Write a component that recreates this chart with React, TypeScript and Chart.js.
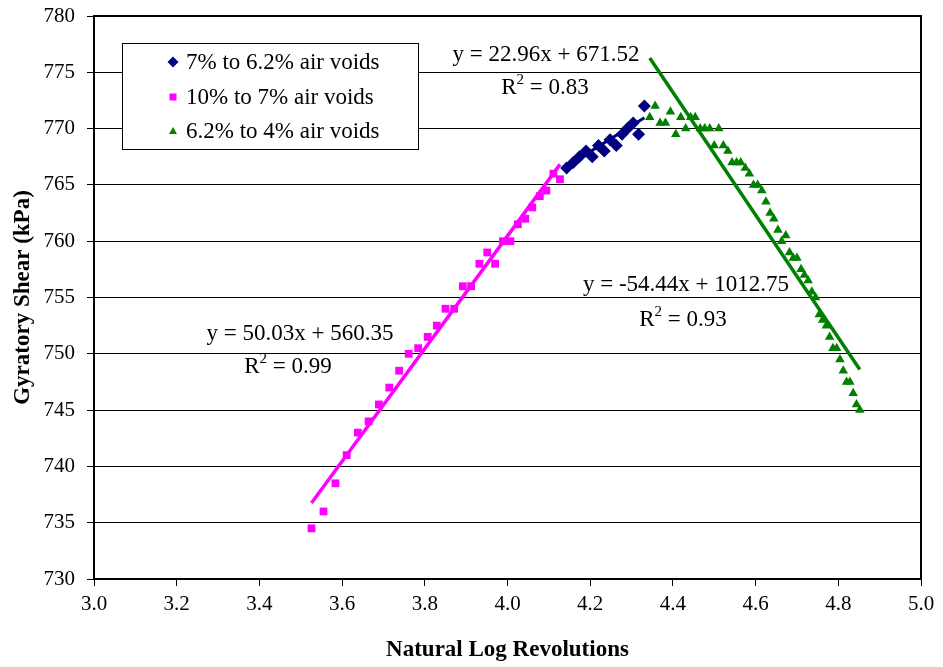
import React, { useEffect, useRef } from "react";
import { Chart, registerables } from "chart.js";

Chart.register(...registerables);

// ---- Data (x = natural log of gyratory revolutions, y = gyratory shear kPa)
const pinkX = [3.526, 3.555, 3.584, 3.611, 3.638, 3.664, 3.689, 3.714, 3.738, 3.761, 3.784, 3.807, 3.829, 3.850, 3.871, 3.892, 3.912, 3.932, 3.951, 3.970, 3.989, 4.007, 4.025, 4.043, 4.060, 4.078, 4.094, 4.111, 4.127];
const pinkY = [734.5, 736, 738.5, 741, 743, 744, 745.5, 747, 748.5, 750, 750.5, 751.5, 752.5, 754, 754, 756, 756, 758, 759, 758, 760, 760, 761.5, 762, 763, 764, 764.5, 766, 765.5];

const navyX = [4.143, 4.159, 4.174, 4.190, 4.205, 4.220, 4.234, 4.248, 4.263, 4.277, 4.290, 4.304, 4.317, 4.331];
const navyY = [766.5, 767, 767.5, 768, 767.5, 768.5, 768, 769, 768.5, 769.5, 770, 770.5, 769.5, 772];

const greenX = [4.344, 4.357, 4.369, 4.382, 4.394, 4.407, 4.419, 4.431, 4.443, 4.454, 4.466, 4.477, 4.489, 4.500, 4.511, 4.522, 4.533, 4.543, 4.554, 4.564, 4.575, 4.585, 4.595, 4.605, 4.615, 4.625, 4.635, 4.644, 4.654, 4.663, 4.673, 4.682, 4.691, 4.700, 4.710, 4.718, 4.727, 4.736, 4.745, 4.754, 4.762, 4.771, 4.779, 4.787, 4.796, 4.804, 4.812, 4.820, 4.828, 4.836, 4.844, 4.852];
const greenY = [771, 772, 770.5, 770.5, 771.5, 769.5, 771, 770, 771, 771, 770, 770, 770, 768.5, 770, 768.5, 768, 767, 767, 767, 766.5, 766, 765, 765, 764.5, 763.5, 762.5, 762, 761, 760, 760.5, 759, 758.5, 758.5, 757.5, 757, 756.5, 755.5, 755, 753.5, 753, 752.5, 751.5, 750.5, 750.5, 749.5, 748.5, 747.5, 747.5, 746.5, 745.5, 745];

// Trend line coefficients [slope, intercept]
const navyFit = [22.96, 671.52];
const pinkFit = [50.03, 560.35];
const greenFit = [-54.44, 1012.75];

const seriesLabels = ["7% to 6.2% air voids", "10% to 7% air voids", "6.2% to 4% air voids"];
const navyEq = ["y = 22.96x + 671.52", "0.83"];
const greenEq = ["y = -54.44x + 1012.75", "0.93"];
const pinkEq = ["y = 50.03x + 560.35", "0.99"];

const xTicks = { min: 3.0, max: 5.0, step: 0.2 };
const yTicks = { min: 730, max: 780, step: 5 };

const NAVY = "#000080";
const PINK = "#FF00FF";
const GREEN = "#008000";
const FONT = "'Liberation Serif', 'Times New Roman', serif";

const pts = (xs: number[], ys: number[]) => xs.map((x, i) => ({ x, y: ys[i] }));
const fitLine = (xs: number[], fit: number[]) => {
  const a = xs[0];
  const b = xs[xs.length - 1];
  return [
    { x: a, y: fit[0] * a + fit[1] },
    { x: b, y: fit[0] * b + fit[1] },
  ];
};

const overlayPlugin = {
  id: "overlay",
  afterDraw(chart: any) {
    const { ctx, chartArea } = chart;
    ctx.save();
    // plot border
    ctx.strokeStyle = "#000";
    ctx.lineWidth = 2;
    ctx.strokeRect(chartArea.left, chartArea.top, chartArea.right - chartArea.left, chartArea.bottom - chartArea.top);

    // legend box
    const lx = 122, ly = 43, lw = 296, lh = 106;
    ctx.fillStyle = "#fff";
    ctx.fillRect(lx, ly, lw, lh);
    ctx.lineWidth = 1;
    ctx.strokeStyle = "#000";
    ctx.strokeRect(lx + 0.5, ly + 0.5, lw, lh);
    const rows = [62, 97, 131];
    const colors = [NAVY, PINK, GREEN];
    ctx.font = `23px ${FONT}`;
    ctx.textBaseline = "middle";
    ctx.textAlign = "left";
    rows.forEach((ry, i) => {
      const mx = 173;
      ctx.fillStyle = colors[i];
      ctx.beginPath();
      if (i === 0) {
        ctx.moveTo(mx, ry - 5.5);
        ctx.lineTo(mx + 5.5, ry);
        ctx.lineTo(mx, ry + 5.5);
        ctx.lineTo(mx - 5.5, ry);
        ctx.closePath();
      } else if (i === 1) {
        ctx.rect(mx - 3.5, ry - 3.5, 7, 7);
      } else {
        ctx.moveTo(mx, ry - 4);
        ctx.lineTo(mx + 4, ry + 3);
        ctx.lineTo(mx - 4, ry + 3);
        ctx.closePath();
      }
      ctx.fill();
      ctx.fillStyle = "#000";
      ctx.fillText(seriesLabels[i], 186, ry + 1);
    });

    // equations
    const drawEq = (eq: string[], cx1: number, cy1: number, cx2: number, cy2: number) => {
      ctx.font = `23px ${FONT}`;
      ctx.fillStyle = "#000";
      ctx.textAlign = "center";
      ctx.textBaseline = "middle";
      ctx.fillText(eq[0], cx1, cy1);
      const rest = " = " + eq[1];
      const wR = ctx.measureText("R").width;
      const wRest = ctx.measureText(rest).width;
      ctx.font = `15px ${FONT}`;
      const w2 = ctx.measureText("2").width;
      const total = wR + w2 + wRest;
      let x = cx2 - total / 2;
      ctx.textAlign = "left";
      ctx.font = `23px ${FONT}`;
      ctx.fillText("R", x, cy2);
      x += wR;
      ctx.font = `15px ${FONT}`;
      ctx.fillText("2", x, cy2 - 8);
      x += w2;
      ctx.font = `23px ${FONT}`;
      ctx.fillText(rest, x, cy2);
    };
    drawEq(navyEq, 546, 55, 545, 88);
    drawEq(greenEq, 686, 285, 683, 320);
    drawEq(pinkEq, 300, 334, 288, 367);
    ctx.restore();
  },
};

function GyratoryChart() {
  const ref = useRef<HTMLCanvasElement | null>(null);
  useEffect(() => {
    if (!ref.current) return;
    const chart = new Chart(ref.current, {
      type: "scatter",
      data: {
        datasets: [
          { label: seriesLabels[1], data: pts(pinkX, pinkY), pointStyle: "rect", pointRadius: 5.5, backgroundColor: PINK, borderColor: PINK, borderWidth: 0 },
          { label: seriesLabels[0], data: pts(navyX, navyY), pointStyle: "rectRot", pointRadius: 6.5, backgroundColor: NAVY, borderColor: NAVY, borderWidth: 0 },
          { label: seriesLabels[2], data: pts(greenX, greenY), pointStyle: "triangle", pointRadius: 5.5, backgroundColor: GREEN, borderColor: GREEN, borderWidth: 0 },
          { label: "pinkFit", data: fitLine(pinkX, pinkFit), showLine: true, pointRadius: 0, borderColor: PINK, borderWidth: 3.5 },
          { label: "navyFit", data: fitLine(navyX, navyFit), showLine: true, pointRadius: 0, borderColor: NAVY, borderWidth: 3 },
          { label: "greenFit", data: fitLine(greenX, greenFit), showLine: true, pointRadius: 0, borderColor: GREEN, borderWidth: 3.5 },
        ],
      } as any,
      options: {
        animation: false,
        responsive: false,
        maintainAspectRatio: false,
        layout: { padding: { top: 16, right: 22, left: 0, bottom: 0 } },
        plugins: { legend: { display: false }, tooltip: { enabled: false }, title: { display: false } },
        scales: {
          x: {
            type: "linear",
            min: xTicks.min,
            max: xTicks.max,
            afterFit: (s: any) => { s.height = 88; s.paddingLeft = 0; s.paddingRight = 0; },
            ticks: {
              stepSize: xTicks.step,
              callback: (v: any) => Number(v).toFixed(1),
              color: "#000",
              font: { family: FONT, size: 21 },
              padding: 6,
              maxRotation: 0,
            },
            grid: { drawOnChartArea: false, drawTicks: true, tickLength: 7, color: "#000" },
            border: { display: true, color: "#000", width: 2 },
            title: { display: true, text: "Natural Log Revolutions", color: "#000", font: { family: FONT, size: 23, weight: "bold" }, padding: { top: 4, bottom: 3 } },
          },
          y: {
            type: "linear",
            min: yTicks.min,
            max: yTicks.max,
            afterFit: (s: any) => { s.width = 94; s.paddingTop = 0; s.paddingBottom = 0; },
            ticks: {
              stepSize: yTicks.step,
              color: "#000",
              font: { family: FONT, size: 21 },
              padding: 12,
            },
            grid: { drawOnChartArea: true, drawTicks: true, tickLength: 7, color: "#000", lineWidth: 1 },
            border: { display: true, color: "#000", width: 2 },
            title: { display: true, text: "Gyratory Shear (kPa)", color: "#000", font: { family: FONT, size: 23, weight: "bold" }, padding: { top: 9, bottom: 4 } },
          },
        },
      } as any,
      plugins: [overlayPlugin],
    });
    return () => chart.destroy();
  }, []);
  return <canvas ref={ref} width={943} height={667} style={{ display: "block", width: 943, height: 667 }} />;
}

export default function App() {
  return (
    <div style={{ position: "fixed", left: 0, top: 0, width: 943, height: 667, background: "#fff" }}>
      <GyratoryChart />
    </div>
  );
}
